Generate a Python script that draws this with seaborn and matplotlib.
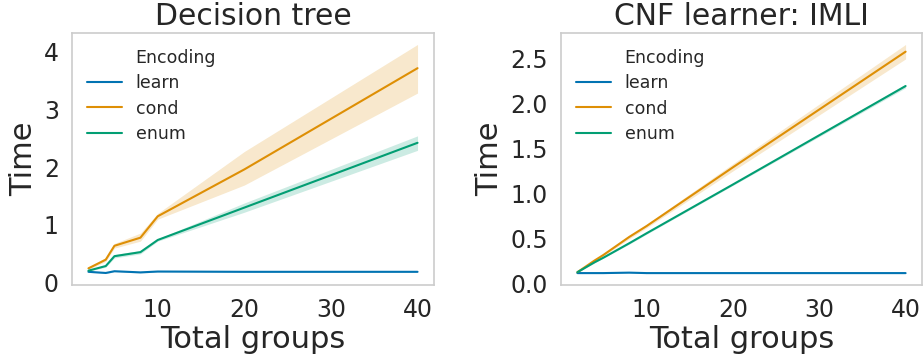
import numpy as np
import pandas as pd
import matplotlib
matplotlib.use("Agg")
import matplotlib.pyplot as plt
import seaborn as sns
from matplotlib.lines import Line2D

groups = [2, 4, 5, 8, 10, 20, 40]
encodings = ["learn", "cond", "enum"]

# Decision tree
dt_learn = [0.19, 0.17, 0.20, 0.18, 0.195, 0.19, 0.19]
dt_learn_lo = [0.18, 0.16, 0.19, 0.17, 0.185, 0.18, 0.18]
dt_learn_hi = [0.20, 0.18, 0.21, 0.19, 0.205, 0.20, 0.20]
dt_cond = [0.25, 0.40, 0.64, 0.78, 1.15, 1.96, 3.71]
dt_cond_lo = [0.23, 0.37, 0.60, 0.72, 1.10, 1.69, 3.28]
dt_cond_hi = [0.27, 0.44, 0.68, 0.86, 1.20, 2.27, 4.12]
dt_enum = [0.21, 0.29, 0.46, 0.53, 0.74, 1.30, 2.42]
dt_enum_lo = [0.20, 0.27, 0.43, 0.50, 0.72, 1.22, 2.29]
dt_enum_hi = [0.22, 0.31, 0.49, 0.56, 0.76, 1.38, 2.54]

# CNF learner: IMLI
im_learn = [0.12, 0.12, 0.12, 0.125, 0.12, 0.12, 0.12]
im_learn_lo = [0.115, 0.115, 0.115, 0.12, 0.115, 0.115, 0.115]
im_learn_hi = [0.125, 0.125, 0.125, 0.13, 0.125, 0.125, 0.125]
im_cond = [0.13, 0.26, 0.32, 0.52, 0.64, 1.29, 2.57]
im_cond_lo = [0.12, 0.25, 0.31, 0.50, 0.62, 1.25, 2.49]
im_cond_hi = [0.14, 0.27, 0.33, 0.54, 0.66, 1.33, 2.65]
im_enum = [0.13, 0.24, 0.29, 0.45, 0.56, 1.10, 2.19]
im_enum_lo = [0.125, 0.235, 0.285, 0.44, 0.55, 1.09, 2.17]
im_enum_hi = [0.135, 0.245, 0.295, 0.46, 0.57, 1.11, 2.21]

titles = ["Decision tree", "CNF learner: IMLI"]

sns.set_theme(style="whitegrid")
plt.rcParams['font.family'] = ['DejaVu Sans']
palette = sns.color_palette("colorblind", 3)

fig = plt.figure(figsize=(9.23, 3.6), dpi=100)
ax1 = fig.add_axes([72/923, 75/360, 362/923, 252/360])
ax2 = fig.add_axes([561/923, 75/360, 361/923, 252/360])

panels = [
    (ax1, [(dt_learn, dt_learn_lo, dt_learn_hi), (dt_cond, dt_cond_lo, dt_cond_hi), (dt_enum, dt_enum_lo, dt_enum_hi)]),
    (ax2, [(im_learn, im_learn_lo, im_learn_hi), (im_cond, im_cond_lo, im_cond_hi), (im_enum, im_enum_lo, im_enum_hi)]),
]

for (ax, series), title in zip(panels, titles):
    rows = []
    for enc, (m, lo, hi) in zip(encodings, series):
        for g, v in zip(groups, m):
            rows.append({"Total groups": g, "Time": v, "Encoding": enc})
    df = pd.DataFrame(rows)
    sns.lineplot(data=df, x="Total groups", y="Time", hue="Encoding",
                 hue_order=encodings, palette=palette, ax=ax, lw=1.5,
                 errorbar=None, legend=False)
    for i, (m, lo, hi) in enumerate(series):
        ax.fill_between(groups, lo, hi, color=palette[i], alpha=0.2, lw=0)
    ax.grid(False)
    for s in ax.spines.values():
        s.set_color("#cccccc")
        s.set_linewidth(1.2)
    ax.set_title(title, fontsize=21.5, color="#262626", pad=6)
    ax.set_xlabel("Total groups", fontsize=22, color="#262626", labelpad=2)
    ax.set_ylabel("Time", fontsize=22, color="#262626", labelpad=4)
    ax.tick_params(axis="both", labelsize=17, colors="#262626", length=0, pad=9.5)
    ax.set_xticks([10, 20, 30, 40])
    handles = [Line2D([], [], color="none")] + [Line2D([], [], color=palette[i], lw=1.5) for i in range(3)]
    labels = ["Encoding"] + encodings
    ax.legend(handles, labels, loc="upper left", frameon=False, fontsize=12.5,
              handlelength=2.0, handletextpad=0.8, labelspacing=0.42,
              borderaxespad=0.3, bbox_to_anchor=(0.008, 0.985))

ax1.set_yticks([0, 1, 2, 3, 4])
ax2.set_yticks([0.0, 0.5, 1.0, 1.5, 2.0, 2.5])

fig.savefig("out.png", dpi=100)
